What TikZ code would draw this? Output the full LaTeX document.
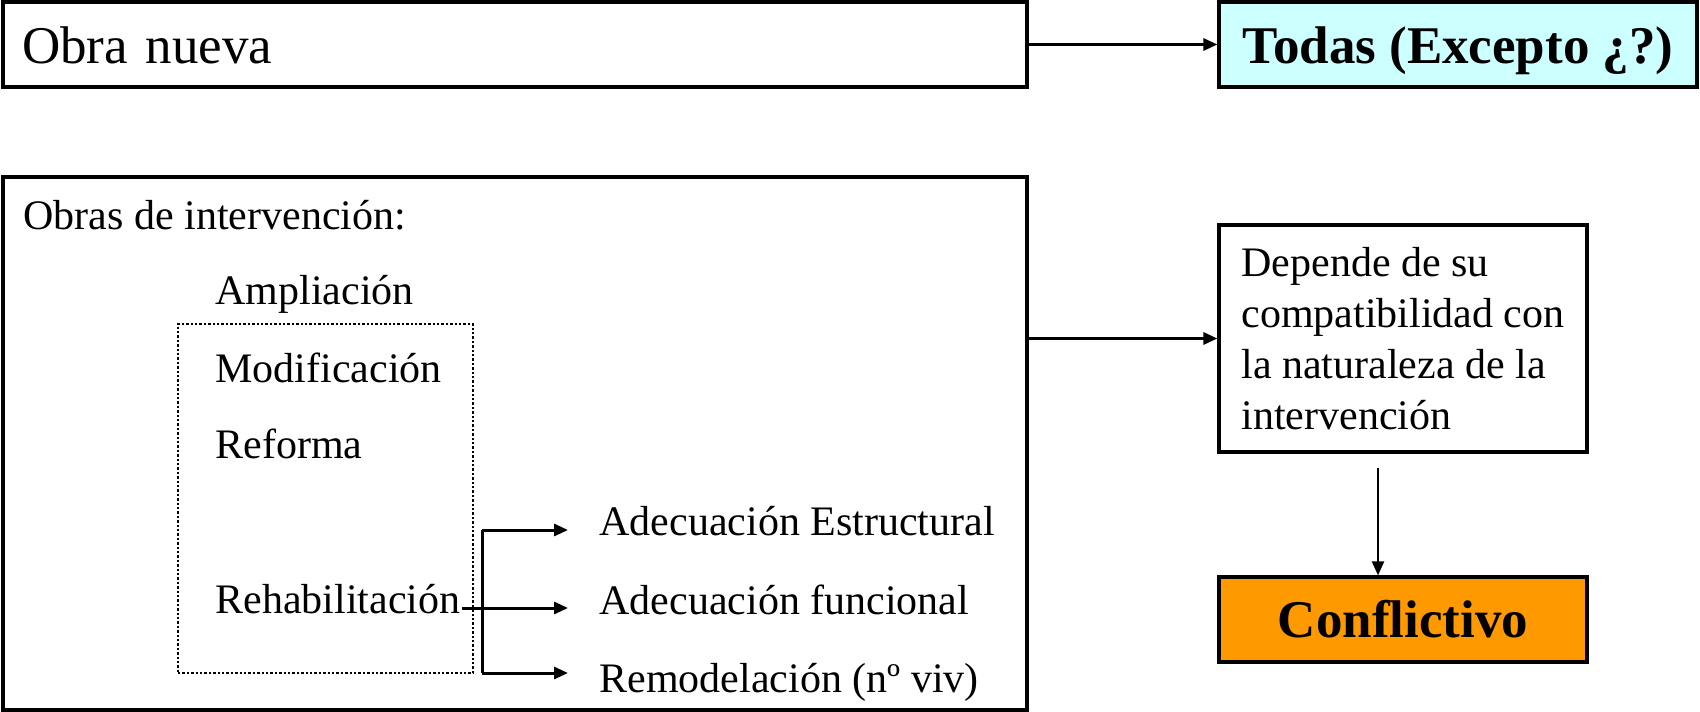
\documentclass[tikz,border=0pt]{standalone}
\usepackage{fontspec}
\setmainfont{Liberation Serif}
\usetikzlibrary{arrows.meta, positioning}
\definecolor{todasc}{HTML}{CCFFFF}
\definecolor{conflc}{HTML}{FF9900}

\begin{document}
\begin{tikzpicture}[x=1pt, y=-1pt, >={Triangle[length=14pt, width=12pt]},
      line width=3pt,
      box/.style={draw, line width=3.2pt, inner sep=0pt},
      head/.style={font=\fontsize{53}{60}\selectfont, text height=37pt,
                   text depth=0pt},
      txt/.style={font=\fontsize{42}{51}\selectfont, inner sep=0pt,
                  anchor=base west},
      rama/.style={->, shorten >=30pt}]
    \useasboundingbox (0,0) rectangle (1700,712);
    % top row
    \node[box, head, minimum width=1024pt, minimum height=85pt,
          text width=986pt] (obra) at (515,44.5) {Obra nueva};
    \node[box, head, fill=todasc, minimum width=478pt,
          minimum height=85pt] (todas) at (1458,44.5)
          {\bfseries Todas (Excepto ¿?)};
    \draw[->] (obra) -- (todas);
    % obras de intervencion
    \node[box, minimum width=1024pt, minimum height=533pt] (interv)
          at (515,443.5) {};
    \node[txt] (titulo) at (22,229) {Obras de intervención:};
    \node[draw, line width=2.4pt, dash pattern=on 2.4pt off 2pt,
          minimum width=295pt, minimum height=349pt] (grupo)
          at (325.5,498.5) {};
    \node[txt] (ampl) at (214,304) {Ampliación};
    \node[txt] (modif) at (214,382) {Modificación};
    \node[txt] (refor) at (214,458) {Reforma};
    \node[txt] (rehab) at (214,613) {Rehabilitación};
    \node[txt] (estr) at (598,535) {Adecuación Estructural};
    \node[txt] (func) at (598,614) {Adecuación funcional};
    \node[txt] (remod) at (598,692) {Remodelación (nº viv)};
    \coordinate (forkA) at (482,530);
    \coordinate (forkB) at (482,608);
    \coordinate (forkC) at (482,673);
    \draw (forkA) -- (forkC);
    \draw[rama] (rehab.east |- forkB) -- (forkB -| func.west);
    \draw[rama] (forkA) -- (forkA -| estr.west);
    \draw[rama] (forkC) -- (forkC -| remod.west);
    % right column
    \node[box, font=\fontsize{42}{51}\selectfont, align=left,
          minimum width=368pt, minimum height=227pt] (dep)
          at (1403,338.5)
          {Depende de su\\compatibilidad con\\la naturaleza de la\\intervención};
    \node[box, head, fill=conflc, text height=35pt, minimum width=368pt,
          minimum height=85pt] (conf) at (1403,619.5) {\bfseries Conflictivo};
    \draw[->] (interv.east |- dep.west) -- (dep.west);
    \draw[->, line width=2.2pt, shorten <=14pt]
          ([xshift=-25pt]dep.south) -- ([xshift=-25pt]conf.north);
  \end{tikzpicture}
\end{document}
